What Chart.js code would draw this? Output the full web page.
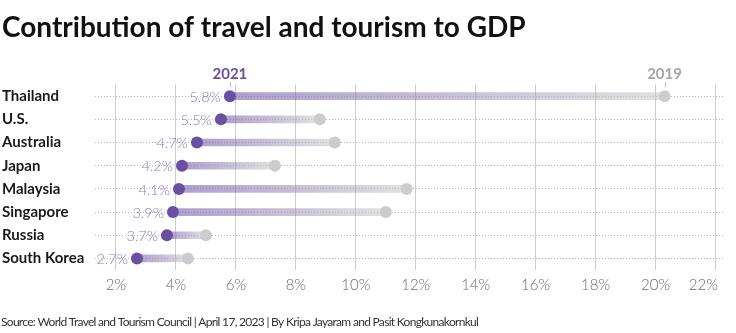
<!DOCTYPE html>
<html>
  <head>
    <title>Contribution of travel and tourism to GDP</title>
    <script src="https://cdn.jsdelivr.net/npm/chart.js@4"></script>
    <style>
      body { margin: 0; background: #fff; }
      #wrap { position: relative; width: 736px; height: 333px; }
    </style>
  </head>
  <body>
    <div id="wrap"><canvas id="myChart"></canvas></div>
    <script>
      // Share of GDP from travel and tourism, in percent
      const countries = ['Thailand', 'U.S.', 'Australia', 'Japan', 'Malaysia', 'Singapore', 'Russia', 'South Korea'];
      const gdp2021 = [5.8, 5.5, 4.7, 4.2, 4.1, 3.9, 3.7, 2.7];
      const gdp2019 = [20.3, 8.8, 9.3, 7.3, 11.7, 11.0, 5.0, 4.4];
      const xTicks = [2, 4, 6, 8, 10, 12, 14, 16, 18, 20, 22];
      const source = 'Source: World Travel and Tourism Council | April 17, 2023 | By Kripa Jayaram and Pasit Kongkunakornkul';

      const purple = '#6a4fa3';
      const grey = '#cccccc';
      const font = 'Lato';

      // gradient from the 2021 dot (purple) to the 2019 dot (grey)
      function barGradient(ctx) {
        const chart = ctx.chart;
        const x = chart.scales.x;
        const fallback = 'rgba(106,79,163,0.4)';
        if (!x || ctx.dataIndex === undefined) return fallback;
        const i = ctx.dataIndex;
        const x0 = x.getPixelForValue(gdp2021[i]);
        const x1 = x.getPixelForValue(gdp2019[i]);
        if (!isFinite(x0) || !isFinite(x1) || x0 === x1) return fallback;
        const g = chart.ctx.createLinearGradient(x0, 0, x1, 0);
        g.addColorStop(0, 'rgba(106,79,163,0.55)');
        g.addColorStop(1, 'rgba(200,200,200,0.55)');
        return g;
      }

      // value labels next to the 2021 dots, the year headers and the source line
      const labelPlugin = {
        id: 'labels',
        afterDatasetsDraw(chart) {
          const c = chart.ctx;
          const x = chart.scales.x, y = chart.scales.y;
          c.save();
          c.font = '300 14.5px ' + font;
          c.fillStyle = '#8a76c2';
          c.textAlign = 'right';
          c.textBaseline = 'middle';
          gdp2021.forEach((v, i) => {
            c.fillText(v.toFixed(1) + '%', x.getPixelForValue(v) - 9, y.getPixelForValue(i) + 1);
          });
          const top = y.getPixelForValue(0);
          c.font = 'bold 15px ' + font;
          c.textAlign = 'center';
          c.textBaseline = 'alphabetic';
          [[gdp2021[0], '2021', purple], [gdp2019[0], '2019', '#a6a6a6']].forEach(([v, t, col]) => {
            const px = x.getPixelForValue(v);
            c.fillStyle = col;
            c.fillText(t, px, top - 17);
            c.strokeStyle = '#bbbbbb';
            c.lineWidth = 1;
            c.beginPath();
            c.moveTo(Math.round(px) + 0.5, top - 14);
            c.lineTo(Math.round(px) + 0.5, top - 9);
            c.stroke();
          });

          c.font = '12px ' + font;
          c.letterSpacing = '-0.7px';
          c.fillStyle = '#333333';
          c.textAlign = 'left';
          c.textBaseline = 'middle';
          c.fillText(source, 1, 322);
          c.restore();
        }
      };

      const ctx = document.getElementById('myChart').getContext('2d');
      new Chart(ctx, {
        data: {
          labels: countries,
          datasets: [
            {
              type: 'line',
              label: '2021',
              data: gdp2021,
              showLine: false,
              pointRadius: 6,
              pointHoverRadius: 6,
              pointBackgroundColor: purple,
              pointBorderWidth: 0,
              order: 0
            },
            {
              type: 'line',
              label: '2019',
              data: gdp2019,
              showLine: false,
              pointRadius: 6,
              pointHoverRadius: 6,
              pointBackgroundColor: grey,
              pointBorderWidth: 0,
              order: 1
            },
            {
              type: 'bar',
              label: 'change',
              data: gdp2021.map((v, i) => [v, gdp2019[i]]),
              backgroundColor: barGradient,
              barThickness: 7,
              borderSkipped: false,
              order: 2
            }
          ]
        },
        options: {
          indexAxis: 'y',
          responsive: true,
          maintainAspectRatio: false,
          animation: false,
          layout: { padding: { left: 2, right: 13, top: 0, bottom: 39 } },
          scales: {
            x: {
              type: 'linear',
              min: 1.3,
              max: 22.25,
              afterBuildTicks: s => { s.ticks = xTicks.map(v => ({ value: v })); },
              afterFit: s => { s.height = 24; s.paddingLeft = 0; s.paddingRight = 0; },
              border: { display: false },
              grid: { color: '#cccccc', lineWidth: 1, drawTicks: false },
              ticks: {
                // trailing spaces push the last label left so it ends on its grid line
                callback: v => v === 22 ? '22%      ' : v + '%',
                maxRotation: 0,
                minRotation: 0,
                autoSkip: false,
                color: '#6b6b6b',
                padding: 6,
                font: { family: font, size: 15, weight: '300' }
              }
            },
            y: {
              type: 'category',
              afterFit: s => { s.width = 93; },
              border: { display: false, dash: [1, 2] },
              grid: { offset: false, color: '#b5b5b5', lineWidth: 1, drawTicks: false },
              ticks: {
                autoSkip: false,
                crossAlign: 'far',
                padding: 0,
                color: '#1a1a1a',
                font: { family: font, size: 15, weight: 'bold' }
              }
            }
          },
          plugins: {
            legend: { display: false },
            tooltip: { enabled: false },
            title: {
              display: true,
              text: 'Contribution of travel and tourism to GDP',
              align: 'start',
              color: '#111111',
              font: { family: font, size: 28, weight: 'bold' },
              padding: { top: 11, bottom: 40 }
            }
          }
        },
        plugins: [labelPlugin]
      });
    </script>
  </body>
</html>
